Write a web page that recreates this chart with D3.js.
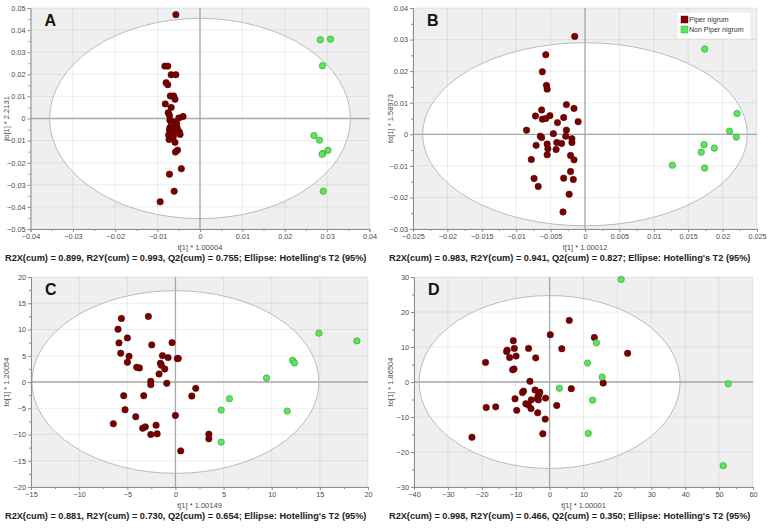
<!DOCTYPE html>
<html>
<head>
<meta charset="utf-8">
<script src="https://cdn.jsdelivr.net/npm/d3@7"></script>
<style>
  body { margin: 0; background: #fff; }
  svg { display: block; font-family: "Liberation Sans", Arial, sans-serif; }
</style>
</head>
<body>
<svg id="chart" width="768" height="528"></svg>
<script>
// ---- panel A ----
var aPiper = [[-0.0057,0.047],[-0.0083,0.0237],[-0.0076,0.0237],[-0.0068,0.0198],[-0.0057,0.0198],
  [-0.008,0.0162],[-0.0076,0.0153],[-0.007,0.0102],[-0.0062,0.0102],[-0.0059,0.0087],[-0.0082,0.0066],
  [-0.0068,0.005],[-0.0075,0.0026],[-0.0072,0.0014],[-0.004,0.0009],[-0.005,0.0002],[-0.0071,-0.0008],
  [-0.0067,-0.0023],[-0.0063,-0.0015],[-0.0059,-0.0035],[-0.0054,-0.0042],[-0.0063,-0.0045],
  [-0.0071,-0.0042],[-0.0049,-0.006],[-0.0047,-0.0072],[-0.0058,-0.0065],[-0.0074,-0.0075],
  [-0.0073,-0.0095],[-0.0063,-0.0083],[-0.0059,-0.0108],[-0.0053,-0.0143],[-0.0058,-0.0152],
  [-0.0072,-0.0052],[-0.0065,-0.003],[-0.0055,-0.0025],[-0.0068,-0.0058],[-0.006,-0.005],
  [-0.0044,-0.0227],[-0.0072,-0.0252],[-0.0061,-0.0329],[-0.0094,-0.0377]];
var aNon = [[0.0284,0.0356],[0.0308,0.0359],[0.0289,0.0239],[0.0269,-0.0077],[0.0282,-0.0098],
  [0.0302,-0.0144],[0.029,-0.0158],[0.0288,-0.0162],[0.0291,-0.0329]];
var aXTicks = [-0.04,-0.03,-0.02,-0.01,0,0.01,0.02,0.03,0.04];
var aYTicks = [-0.05,-0.04,-0.03,-0.02,-0.01,0,0.01,0.02,0.03,0.04,0.05];
var aEllipse = [0.0355, 0.0453];

// ---- panel B ----
var bPiper = [[-0.0015,0.031],[-0.0057,0.0252],[-0.0062,0.0198],[-0.0056,0.0155],[-0.0055,0.0143],
  [-0.0027,0.0094],[-0.0016,0.0082],[-0.0063,0.0077],[-0.001,0.004],[-0.0072,0.0058],[-0.0051,0.0059],
  [-0.0031,0.0053],[-0.0062,0.0048],[-0.0057,0.005],[-0.004,0.0037],[-0.0085,0.0013],[-0.0027,0.0013],
  [-0.0046,0.0002],[-0.0028,-0.0006],[-0.0065,-0.0006],[-0.0063,-0.001],[-0.0019,-0.0014],
  [-0.0019,-0.0026],[-0.0041,-0.0026],[-0.0034,-0.0029],[-0.0055,-0.0031],[-0.0071,-0.0035],
  [-0.0054,-0.0046],[-0.0042,-0.0048],[-0.0055,-0.0065],[-0.0021,-0.0067],[-0.0078,-0.008],
  [-0.0016,-0.0081],[-0.0021,-0.0118],[-0.0074,-0.014],[-0.0031,-0.0139],[-0.0017,-0.0143],
  [-0.0068,-0.0165],[-0.0023,-0.019],[-0.0032,-0.0246]];
var bNon = [[0.0174,0.027],[0.0221,0.0066],[0.021,0.001],[0.022,-0.0009],[0.0173,-0.0033],
  [0.0188,-0.0044],[0.0169,-0.0057],[0.0174,-0.0107],[0.0127,-0.0098]];
var bXTicks = [-0.025,-0.02,-0.015,-0.01,-0.005,0,0.005,0.01,0.015,0.02,0.025];
var bYTicks = [-0.03,-0.02,-0.01,0,0.01,0.02,0.03,0.04];
var bEllipse = [0.0236, 0.029];

// ---- panel C ----
var cPiper = [[-5.61,12.1],[-2.81,12.5],[-5.96,10.06],[-4.99,8.4],[-5.86,7.45],[-2.46,7.07],[-0.35,7.5],
  [-5.68,5.48],[-4.82,4.9],[-1.35,5.03],[-0.76,4.65],[0.2,4.46],[0.3,4.5],[-4.99,3.76],[-1.56,3.57],
  [-1.46,3.18],[-4.02,2.8],[-3.74,2.68],[-1.11,2.48],[-1.7,1.53],[-2.56,0.13],[-2.56,-0.5],[-0.9,-0.25],
  [2.11,-1.21],[1.7,-2.68],[-5.37,-2.61],[-3.29,-2.61],[-5.23,-5.29],[-4.12,-6.62],[0,-6.37],
  [-6.45,-7.96],[-2.01,-8.22],[-3.12,-8.54],[-3.4,-8.8],[-2.56,-10.0],[-1.9,-9.87],[3.47,-9.94],
  [3.47,-10.83],[0.55,-13.12]];
var cNon = [[14.9,9.3],[18.85,7.83],[12.16,4.14],[12.37,3.63],[9.46,0.76],[5.61,-3.18],[4.75,-5.35],
  [11.61,-5.54],[4.75,-11.46]];
var cXTicks = [-15,-10,-5,0,5,10,15,20];
var cYTicks = [-20,-15,-10,-5,0,5,10,15,20];
var cEllipse = [14.9, 17.4];

// ---- panel D ----
var dPiper = [[5.8,17.6],[0.2,13.5],[13.2,12.7],[-10.7,11.8],[-12.5,9.1],[-12.7,8.7],[-10.4,9.6],
  [-6.2,9.6],[3.6,9.5],[23,8.2],[-9.9,7.4],[-11.8,7.0],[-4.1,6.9],[-18.9,5.6],[-10.5,3.7],[-10.9,3.5],
  [-5.8,0.2],[15.8,-0.3],[6.4,-1.9],[-7.7,-2.6],[-8,-3.0],[-4.3,-2.3],[-2.9,-2.9],[-3.1,-3.4],
  [-3.4,-4.1],[-3.6,-4.8],[-3.3,-5.1],[-1.2,-4.6],[-10.2,-4.8],[-5.4,-5.1],[-7,-6.2],[-6.3,-6.5],
  [2.1,-6.7],[-18.7,-7.3],[-15.9,-7.1],[-5.5,-7.6],[-9.7,-8.1],[-3.5,-8.8],[-1.3,-10.6],[-2.0,-14.8],
  [-22.9,-15.8]];
var dNon = [[21.1,29.3],[13.8,11.2],[11.2,5.4],[15.5,1.4],[52.7,-0.5],[2.9,-1.8],[12.7,-5.2],
  [11.4,-14.7],[51.2,-23.9]];
var dXTicks = [-40,-30,-20,-10,0,10,20,30,40,50,60];
var dYTicks = [-30,-20,-10,0,10,20,30];
var dEllipse = [38.5, 24.7];

var groupNames = ["Piper nigrum", "Non Piper nigrum"];
var groupColors = ["#7a0000", "#5ce65c"];
var groupStrokes = ["#4a0000", "#2f9a2f"];

var panels = [
  {letter: "A", piper: aPiper, non: aNon, xt: aXTicks, yt: aYTicks, ell: aEllipse,
   xTitle: "t[1] * 1.00004", yTitle: "to[1] * 2.2131",
   stats: "R2X(cum) = 0.899, R2Y(cum) = 0.993, Q2(cum) = 0.755; Ellipse: Hotelling's T2 (95%)",
   x0: 30.5, x1: 369.5, y0: 8, y1: 229, ox: 0, legend: false},
  {letter: "B", piper: bPiper, non: bNon, xt: bXTicks, yt: bYTicks, ell: bEllipse,
   xTitle: "t[1] * 1.00012", yTitle: "to[1] * 1.58973",
   stats: "R2X(cum) = 0.983, R2Y(cum) = 0.941, Q2(cum) = 0.827; Ellipse: Hotelling's T2 (95%)",
   x0: 413, x1: 757, y0: 8, y1: 229, ox: 384, legend: true},
  {letter: "C", piper: cPiper, non: cNon, xt: cXTicks, yt: cYTicks, ell: cEllipse,
   xTitle: "t[1] * 1.00149", yTitle: "to[1] * 1.20054",
   stats: "R2X(cum) = 0.881, R2Y(cum) = 0.730, Q2(cum) = 0.654; Ellipse: Hotelling's T2 (95%)",
   x0: 31, x1: 368, y0: 277, y1: 487, ox: 0, legend: false},
  {letter: "D", piper: dPiper, non: dNon, xt: dXTicks, yt: dYTicks, ell: dEllipse,
   xTitle: "t[1] * 1.00001", yTitle: "to[1] * 1.86504",
   stats: "R2X(cum) = 0.998, R2Y(cum) = 0.466, Q2(cum) = 0.350; Ellipse: Hotelling's T2 (95%)",
   x0: 414, x1: 753, y0: 277, y1: 487, ox: 384, legend: false}
];

var svg = d3.select("#chart");
var fmt = d3.format("~g");

// half-way ticks for the minor marks
function halves(t) {
  var out = [];
  for (var i = 0; i < t.length - 1; i++) out.push((t[i] + t[i + 1]) / 2);
  return out;
}

panels.forEach(function(p) {
  var x = d3.scaleLinear().domain([p.xt[0], p.xt[p.xt.length - 1]]).range([p.x0, p.x1]);
  var y = d3.scaleLinear().domain([p.yt[0], p.yt[p.yt.length - 1]]).range([p.y1, p.y0]);
  var g = svg.append("g");

  g.append("rect")
    .attr("x", p.x0).attr("y", p.y0)
    .attr("width", p.x1 - p.x0).attr("height", p.y1 - p.y0)
    .attr("fill", "#efefef");

  g.append("ellipse")
    .attr("cx", x(0)).attr("cy", y(0))
    .attr("rx", x(p.ell[0]) - x(0)).attr("ry", y(0) - y(p.ell[1]))
    .attr("fill", "#fff");

  // grid
  g.selectAll(".gx").data(p.xt).enter().append("line")
    .attr("x1", d => x(d)).attr("x2", d => x(d))
    .attr("y1", p.y0).attr("y2", p.y1)
    .attr("stroke", "#000").attr("stroke-opacity", 0.07);
  g.selectAll(".gy").data(p.yt).enter().append("line")
    .attr("y1", d => y(d)).attr("y2", d => y(d))
    .attr("x1", p.x0).attr("x2", p.x1)
    .attr("stroke", "#000").attr("stroke-opacity", 0.07);

  // zero lines
  g.append("line").attr("x1", x(0)).attr("x2", x(0)).attr("y1", p.y0).attr("y2", p.y1)
    .attr("stroke", "#a9a9a9").attr("stroke-width", 1.3);
  g.append("line").attr("x1", p.x0).attr("x2", p.x1).attr("y1", y(0)).attr("y2", y(0))
    .attr("stroke", "#a9a9a9").attr("stroke-width", 1.3);

  g.append("ellipse")
    .attr("cx", x(0)).attr("cy", y(0))
    .attr("rx", x(p.ell[0]) - x(0)).attr("ry", y(0) - y(p.ell[1]))
    .attr("fill", "none").attr("stroke", "#b4b4b4").attr("stroke-width", 0.9);

  // axes
  g.append("g").attr("transform", "translate(0," + p.y1 + ")")
    .call(d3.axisBottom(x).tickValues(p.xt).tickFormat(fmt).tickSize(3).tickPadding(2));
  g.append("g").attr("transform", "translate(0," + p.y1 + ")")
    .call(d3.axisBottom(x).tickValues(halves(p.xt)).tickFormat("").tickSize(2))
    .select(".domain").remove();
  g.append("g").attr("transform", "translate(" + p.x0 + ",0)")
    .call(d3.axisLeft(y).tickValues(p.yt).tickFormat(fmt).tickSize(3).tickPadding(2));
  g.append("g").attr("transform", "translate(" + p.x0 + ",0)")
    .call(d3.axisLeft(y).tickValues(halves(p.yt)).tickFormat("").tickSize(2))
    .select(".domain").remove();
  g.selectAll(".domain, .tick line").attr("stroke", "#8c8c8c");
  g.selectAll(".tick text").attr("fill", "#4a4a4a").style("font-size", "7.3px")
    .style("font-family", "\"Liberation Sans\", Arial, sans-serif");

  // axis titles
  g.append("text").attr("x", (p.x0 + p.x1) / 2).attr("y", p.y1 + 21)
    .attr("text-anchor", "middle").attr("font-size", 7.5).attr("fill", "#4a4a4a").text(p.xTitle);
  g.append("text")
    .attr("transform", "translate(" + (p.ox + 9) + "," + ((p.y0 + p.y1) / 2) + ") rotate(-90)")
    .attr("text-anchor", "middle").attr("font-size", 7.5).attr("fill", "#4a4a4a").text(p.yTitle);

  // points
  [p.piper, p.non].forEach(function(pts, gi) {
    g.selectAll(".pt" + gi).data(pts).enter().append("circle")
      .attr("cx", d => x(d[0])).attr("cy", d => y(d[1])).attr("r", 3.2)
      .attr("fill", groupColors[gi]).attr("stroke", groupStrokes[gi]).attr("stroke-width", 0.6);
  });

  // panel letter
  g.append("text").attr("x", p.x0 + 14).attr("y", p.y0 + 18)
    .attr("font-size", 16).attr("font-weight", "bold").attr("fill", "#111").text(p.letter);

  // caption
  g.append("text").attr("x", p.ox + 5).attr("y", p.y1 + 32)
    .attr("font-size", 9.2).attr("font-weight", "bold").attr("fill", "#222").text(p.stats);

  if (p.legend) {
    var lg = g.append("g").attr("transform", "translate(677,12)");
    lg.append("rect").attr("width", 74).attr("height", 27)
      .attr("fill", "#fff").attr("stroke", "#e2e2e2").attr("stroke-width", 0.6);
    groupNames.forEach(function(n, i) {
      lg.append("rect").attr("x", 4).attr("y", 4 + i * 10).attr("width", 7).attr("height", 7)
        .attr("fill", groupColors[i]).attr("stroke", groupStrokes[i]).attr("stroke-width", 0.4);
      lg.append("text").attr("x", 12).attr("y", 10 + i * 10)
        .attr("font-size", 7).attr("fill", "#333").text(n);
    });
  }
});
</script>
</body>
</html>
